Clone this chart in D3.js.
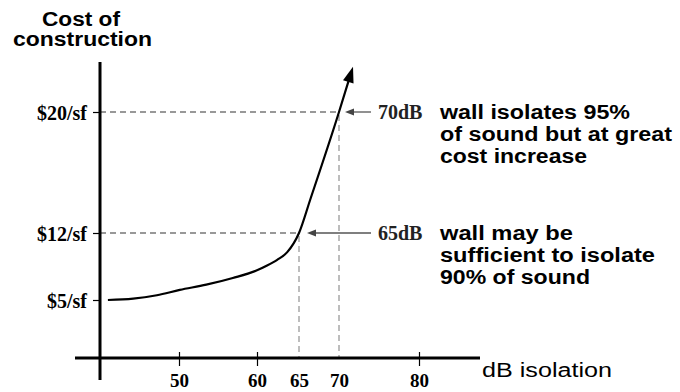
<!DOCTYPE html>
<html>
<head>
<meta charset="utf-8">
<script src="https://cdn.jsdelivr.net/npm/d3@7"></script>
<style>
  html, body { margin: 0; padding: 0; background: #fff; }
  svg { display: block; }
</style>
</head>
<body>
<svg id="chart" width="680" height="392"></svg>
<script>
// ---- data ----
const curveDb   = [41.0, 44.2, 47.2, 50.1, 53.5, 56.9, 60.0, 61.2, 62.4, 63.6, 65.0, 66.4, 70.0, 71.75];
const curveCost = [5.0,  5.14, 5.5,  6.05, 6.6,  7.3,  8.1,  8.6,  9.2,  10.0, 12.0, 14.2, 20.0, 23.0];
const xTicks = [50, 60, 65, 70, 80];
const yTicks = [5, 12, 20];
const yTickLabels = ["$5/sf", "$12/sf", "$20/sf"];
const markerDb = [65, 70];
const markerCost = [12, 20];
const markerLabels = ["65dB", "70dB"];
const noteLines = [
  ["wall may be", "sufficient to isolate", "90% of sound"],
  ["wall isolates 95%", "of sound but at great", "cost increase"]
];
const noteWidths = [[133, 215, 150], [190, 232, 147]];
const yTitle = ["Cost of", "construction"];
const xTitle = "dB isolation";

// ---- scales (schematic, piecewise) ----
const x = d3.scaleLinear().domain([40, 50, 60, 65, 70, 80]).range([100, 179, 257, 299, 339, 419]);
const y = d3.scaleLinear().domain([5, 12, 20]).range([300, 233, 112]);

const svg = d3.select("#chart");
const axisY = 358, axisX = x(40);
const serif = "'Liberation Serif', 'Times New Roman', serif";
const sans = "'Liberation Sans', Arial, Helvetica, sans-serif";

// dashed guides
const guides = svg.append("g").attr("stroke", "#777").attr("stroke-width", 1.3)
  .attr("stroke-dasharray", "6,4").attr("fill", "none");
markerDb.forEach((d, i) => {
  guides.append("line").attr("x1", axisX).attr("x2", x(d))
    .attr("y1", y(markerCost[i])).attr("y2", y(markerCost[i]));
  guides.append("line").attr("x1", x(d)).attr("x2", x(d))
    .attr("y1", y(markerCost[i]) + 3).attr("y2", axisY).attr("stroke-width", 1.1).attr("stroke", "#888");
});

// x axis via d3.axisBottom
const xAxis = d3.axisBottom(x).tickValues(xTicks).tickSize(8).tickPadding(0).tickSizeOuter(0);
const gx = svg.append("g").attr("transform", `translate(0,${axisY})`).call(xAxis);
gx.select(".domain").remove();
gx.selectAll(".tick line").attr("y1", -6).attr("y2", 8).attr("stroke", "#000").attr("stroke-width", 1.2);
gx.selectAll(".tick text").attr("y", 29).attr("dy", 0)
  .attr("font-family", serif).attr("font-weight", "bold").attr("font-size", 19).attr("fill", "#000");
gx.selectAll(".tick").filter(d => d === 65 || d === 70).select("line").remove();

// y axis via d3.axisLeft
const yAxis = d3.axisLeft(y).tickValues(yTicks).tickFormat((d, i) => yTickLabels[i]).tickSize(7).tickPadding(6).tickSizeOuter(0);
const gy = svg.append("g").attr("transform", `translate(${axisX},0)`).call(yAxis);
gy.select(".domain").remove();
gy.selectAll(".tick line").attr("stroke", "#000").attr("stroke-width", 1.2);
gy.selectAll(".tick text").attr("dy", "0.35em")
  .attr("font-family", serif).attr("font-weight", "bold").attr("font-size", 20).attr("fill", "#000");

// main axis lines
svg.append("line").attr("x1", 75).attr("x2", 480).attr("y1", axisY).attr("y2", axisY)
  .attr("stroke", "#000").attr("stroke-width", 3);
svg.append("line").attr("x1", axisX).attr("x2", axisX).attr("y1", 62).attr("y2", 380)
  .attr("stroke", "#000").attr("stroke-width", 3);

// curve
const pts = curveDb.map((d, i) => [x(d), y(curveCost[i])]);
const line = d3.line().curve(d3.curveMonotoneX);
const n = pts.length;
const tip = pts[n - 1], prev = pts[n - 2];
const ang = Math.atan2(tip[1] - prev[1], tip[0] - prev[0]);
const headLen = 16, headW = 5.5;
const base = [tip[0] - headLen * Math.cos(ang), tip[1] - headLen * Math.sin(ang)];
const linePts = pts.slice(0, n - 1).concat([[base[0] + 2 * Math.cos(ang), base[1] + 2 * Math.sin(ang)]]);
svg.append("path").attr("d", line(linePts)).attr("fill", "none")
  .attr("stroke", "#000").attr("stroke-width", 2.2).attr("stroke-linejoin", "round");
svg.append("path").attr("fill", "#000").attr("d", d3.line()([
  tip,
  [base[0] + headW * Math.sin(ang), base[1] - headW * Math.cos(ang)],
  [base[0] - headW * Math.sin(ang), base[1] + headW * Math.cos(ang)]
]) + "Z");

// annotation arrows and labels
markerDb.forEach((d, i) => {
  const yy = y(markerCost[i]);
  const tipX = x(d) + (d === 70 ? 6 : 8);
  svg.append("line").attr("x1", 371).attr("x2", tipX + 6).attr("y1", yy).attr("y2", yy)
    .attr("stroke", "#555").attr("stroke-width", 1.3);
  svg.append("path").attr("fill", "#444")
    .attr("d", d3.line()([[tipX, yy], [tipX + 9, yy - 3.5], [tipX + 9, yy + 3.5]]) + "Z");
  svg.append("text").attr("x", 378).attr("y", yy + 6.5)
    .attr("font-family", serif).attr("font-weight", "bold").attr("font-size", 20)
    .attr("fill", "#222").text(markerLabels[i]);
  noteLines[i].forEach((t, j) => {
    svg.append("text").attr("x", 440).attr("y", yy + 6.5 + j * 22)
      .attr("font-family", sans).attr("font-weight", "bold").attr("font-size", 20)
      .attr("textLength", noteWidths[i][j]).attr("lengthAdjust", "spacingAndGlyphs")
      .attr("fill", "#000").text(t);
  });
});

// axis titles
svg.append("text").attr("x", 42).attr("y", 26).attr("font-family", sans).attr("font-weight", "bold")
  .attr("font-size", 20).attr("textLength", 78).attr("lengthAdjust", "spacingAndGlyphs").text(yTitle[0]);
svg.append("text").attr("x", 13).attr("y", 46).attr("font-family", sans).attr("font-weight", "bold")
  .attr("font-size", 20).attr("textLength", 139).attr("lengthAdjust", "spacingAndGlyphs").text(yTitle[1]);
svg.append("text").attr("x", 482).attr("y", 377).attr("font-family", sans)
  .attr("font-size", 20).attr("textLength", 130).attr("lengthAdjust", "spacingAndGlyphs").text(xTitle);
</script>
</body>
</html>
